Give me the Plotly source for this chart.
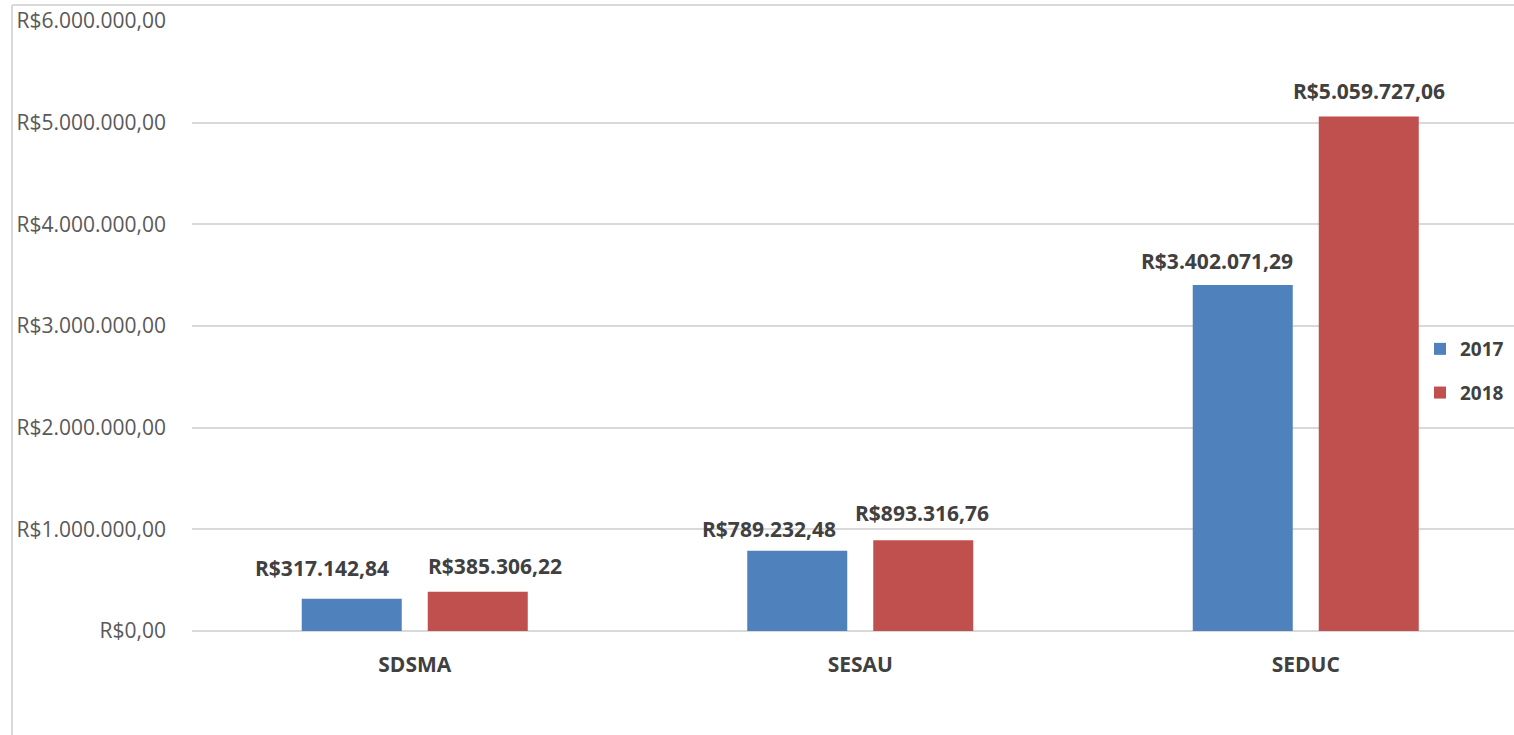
import plotly.graph_objects as go

categories = ["SDSMA", "SESAU", "SEDUC"]
values_2017 = [317142.84, 789232.48, 3402071.29]
values_2018 = [385306.22, 893316.76, 5059727.06]
series_names = ["2017", "2018"]
colors = ["#4F81BD", "#C0504D"]
y_max = 6000000
y_step = 1000000

# per-label nudges (px) as placed in the original: (x nudge, y offset)
label_nudge_2017 = [(-30, 15), (-28, 6), (-26, 8)]
label_nudge_2018 = [(17, 10), (-1, 11), (0, 10)]


def brl(v):
    s = f"{v:,.2f}"
    s = s.replace(",", "X").replace(".", ",").replace("X", ".")
    return "R$" + s


W, H = 1514, 735
L, R, T, B = 192, 0, 21, 104
plot_w = W - L - R
plot_h = H - T - B
band = 445.5
x_hi = -0.5 + plot_w / band

fig = go.Figure()
for name, vals, col in zip(series_names, [values_2017, values_2018], colors):
    fig.add_trace(go.Bar(
        x=categories, y=vals, name=name,
        marker=dict(color=col, line=dict(width=0)),
        legendgroup=name, hoverinfo="skip",
    ))

font_family = "Open Sans"
label_color = "#404040"

annotations = []
for vals, base, nudges in zip([values_2017, values_2018], [-63, 63],
                              [label_nudge_2017, label_nudge_2018]):
    for c, v, (dx, dy) in zip(categories, vals, nudges):
        annotations.append(dict(
            x=c, y=v, xref="x", yref="y", text="<b>" + brl(v) + "</b>",
            showarrow=False, xshift=base + dx, yshift=dy, yanchor="bottom",
            font=dict(family=font_family, size=21, color=label_color),
        ))

# chart frame (left and top edges visible)
px = lambda p: (p - L) / plot_w
py = lambda p: (H - B - p) / plot_h
shapes = [
    dict(type="line", xref="paper", yref="paper", x0=px(12), x1=px(12),
         y0=py(H + 5), y1=py(5), line=dict(color="#d9d9d9", width=2)),
    dict(type="line", xref="paper", yref="paper", x0=px(12), x1=px(W + 5),
         y0=py(5), y1=py(5), line=dict(color="#d9d9d9", width=2)),
]

fig.update_layout(
    width=W, height=H,
    margin=dict(l=L, r=R, t=T, b=B, pad=0),
    paper_bgcolor="white", plot_bgcolor="white",
    separators=",.",
    barmode="group", bargap=0.4343, bargroupgap=0.2063,
    font=dict(family=font_family, color="#595959"),
    annotations=annotations,
    shapes=shapes,
    legend=dict(
        x=px(1420), xanchor="left", y=py(371), yanchor="middle",
        font=dict(family=font_family, size=19, color=label_color, weight="bold"),
        tracegroupgap=16, bgcolor="rgba(0,0,0,0)",
    ),
    xaxis=dict(
        type="category", range=[-0.5, x_hi], showgrid=False, zeroline=False,
        showline=False, ticks="",
        tickfont=dict(family=font_family, size=21, color=label_color, weight="bold"),
        ticklabelstandoff=19,
    ),
    yaxis=dict(
        range=[0, y_max], dtick=y_step, tick0=0,
        tickprefix="R$", tickformat=",.2f",
        showgrid=True, gridcolor="#d9d9d9", gridwidth=1.5,
        zeroline=True, zerolinecolor="#d9d9d9", zerolinewidth=1.5,
        showline=False, ticks="",
        tickfont=dict(family=font_family, size=21, color="#595959"),
        ticklabelstandoff=25,
    ),
)

fig.write_html(
    "out.html",
    config={"displayModeBar": False},
    post_script="document.body.style.margin='0';document.body.style.overflow='hidden';",
)
